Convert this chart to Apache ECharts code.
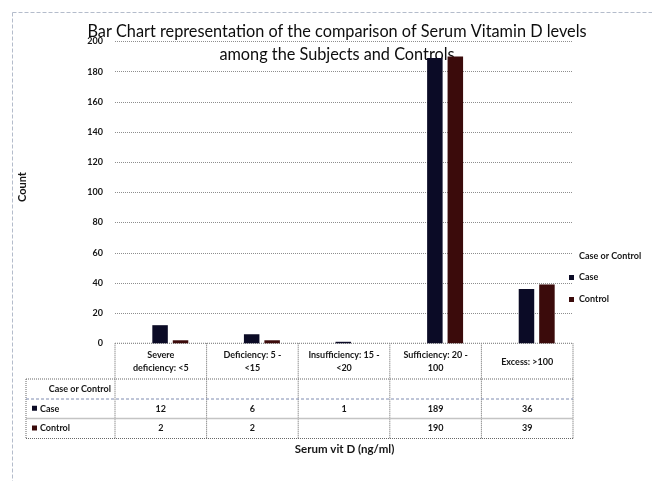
<!DOCTYPE html>
<html>
<head>
<meta charset="utf-8">
<title>Serum Vitamin D levels</title>
<script src="https://cdn.jsdelivr.net/npm/echarts@6/dist/echarts.min.js"></script>
<style>
  html, body { margin: 0; padding: 0; background: #fff; }
  #chart { width: 652px; height: 481px; }
</style>
</head>
<body>
<div id="chart"></div>
<script>
// Vitamin D categories (ng/ml) and counts per group
const categories = [
  'Severe\ndeficiency: <5',
  'Deficiency: 5 -\n<15',
  'Insufficiency: 15 -\n<20',
  'Sufficiency: 20 -\n100',
  'Excess: >100'
];
const caseCounts = [12, 6, 1, 189, 36];
const controlCounts = [2, 2, null, 190, 39];
const seriesNames = ['Case', 'Control'];
const yTicks = { min: 0, max: 200, interval: 20 };

const FONT = 'Lato, "Open Sans", sans-serif';
const colors = ['#0b0b26', '#3b0b0b'];

// plot area
const W = 652, H = 481;
const GL = 115, GR = 573, GT = 41.5, GB = 343.3;
const SHIFT = 9.5;          // bar clusters sit a little right of the band centres
const ROW_LABEL_X = 26;
const rows = [GB, 379, 399, 418.5, 438.5];
const colW = (GR - GL) / categories.length;

const chart = echarts.init(document.getElementById('chart'), null, { renderer: 'canvas' });

const labelStyle = { fontFamily: FONT, fontWeight: 'bold', fontSize: 9, color: '#161616' };
const tableLine = { stroke: '#666', lineWidth: 1, lineDash: [1, 1] };

const graphics = [];
// outer frame (top & left)
graphics.push({ type: 'line', shape: { x1: 12.5, y1: 12.5, x2: W, y2: 12.5 }, style: { stroke: '#b4bccb', lineWidth: 1, lineDash: [4, 2] }, silent: true });
graphics.push({ type: 'line', shape: { x1: 12.5, y1: 12.5, x2: 12.5, y2: H }, style: { stroke: '#b4bccb', lineWidth: 1, lineDash: [4, 2] }, silent: true });

// title
graphics.push({
  type: 'text', x: 337, y: 39.5, silent: true,
  style: { text: 'Bar Chart representation of the comparison of Serum Vitamin D levels', font: '16.3px ' + FONT, fill: '#0d0d0d', textAlign: 'center', textVerticalAlign: 'bottom' }
});
graphics.push({
  type: 'text', x: 337, y: 62.5, silent: true,
  style: { text: 'among the Subjects and Controls', font: '16.3px ' + FONT, fill: '#0d0d0d', textAlign: 'center', textVerticalAlign: 'bottom' }
});

// y axis name
graphics.push({
  type: 'text', x: 22, y: 187, rotation: Math.PI / 2, silent: true,
  style: { text: 'Count', font: 'bold 11px ' + FONT, fill: '#161616', textAlign: 'center', textVerticalAlign: 'middle' }
});

// x axis name
graphics.push({
  type: 'text', x: 344.5, y: 449, silent: true,
  style: { text: 'Serum vit D (ng/ml)', font: 'bold 11.5px ' + FONT, fill: '#161616', textAlign: 'center', textVerticalAlign: 'middle' }
});

// legend heading
graphics.push({
  type: 'text', x: 579, y: 256, silent: true,
  style: { text: 'Case or Control', font: 'bold 9px ' + FONT, fill: '#161616', textAlign: 'left', textVerticalAlign: 'middle' }
});

// data table grid lines
for (let i = 0; i <= categories.length; i++) {
  const x = GL + i * colW;
  graphics.push({ type: 'line', shape: { x1: x, y1: rows[0], x2: x, y2: rows[4] }, style: tableLine, silent: true });
}
graphics.push({ type: 'line', shape: { x1: ROW_LABEL_X, y1: rows[1], x2: ROW_LABEL_X, y2: rows[4] }, style: tableLine, silent: true });
graphics.push({ type: 'line', shape: { x1: GL, y1: rows[0], x2: GR, y2: rows[0] }, style: tableLine, silent: true });
graphics.push({ type: 'line', shape: { x1: ROW_LABEL_X, y1: rows[1], x2: GR, y2: rows[1] }, style: tableLine, silent: true });
graphics.push({ type: 'line', shape: { x1: ROW_LABEL_X, y1: rows[2], x2: GR, y2: rows[2] }, style: { stroke: '#7f8bb0', lineWidth: 1, lineDash: [3, 2] }, silent: true });
graphics.push({ type: 'line', shape: { x1: ROW_LABEL_X, y1: rows[3], x2: GR, y2: rows[3] }, style: { stroke: '#c4c4c4', lineWidth: 1.5 }, silent: true });
graphics.push({ type: 'line', shape: { x1: ROW_LABEL_X, y1: rows[4], x2: GR, y2: rows[4] }, style: tableLine, silent: true });

// row headings
graphics.push({
  type: 'text', x: 111, y: (rows[1] + rows[2]) / 2, silent: true,
  style: { text: 'Case or Control', font: 'bold 9px ' + FONT, fill: '#161616', textAlign: 'right', textVerticalAlign: 'middle' }
});
seriesNames.forEach((name, k) => {
  const cy = (rows[2 + k] + rows[3 + k]) / 2;
  graphics.push({ type: 'rect', shape: { x: 32, y: cy - 3, width: 5, height: 5 }, style: { fill: colors[k] }, silent: true });
  graphics.push({
    type: 'text', x: 40, y: cy, silent: true,
    style: { text: name, font: 'bold 9px ' + FONT, fill: '#161616', textAlign: 'left', textVerticalAlign: 'middle' }
  });
});

// table value rows are drawn as extra category axes so they line up with the bands
const valueRow = (values, yCenter) => ({
  type: 'category', gridIndex: 0, data: categories, position: 'bottom',
  offset: yCenter - GB,
  axisLine: { show: false }, axisTick: { show: false },
  axisLabel: {
    interval: 0, margin: 0, verticalAlign: 'middle', ...labelStyle,
    formatter: (v, i) => (values[i] == null ? '' : String(values[i]))
  }
});

const option = {
  backgroundColor: '#ffffff',
  animation: false,
  textStyle: { fontFamily: FONT },
  grid: [
    { left: GL, right: W - GR, top: GT, bottom: H - GB },
    { left: GL + SHIFT, right: W - GR - SHIFT, top: GT, bottom: H - GB }
  ],
  xAxis: [
    {
      type: 'category', gridIndex: 0, data: categories,
      axisLine: { show: false }, axisTick: { show: false },
      axisLabel: { interval: 0, margin: 18.5, verticalAlign: 'middle', lineHeight: 13, align: 'center', ...labelStyle }
    },
    valueRow(caseCounts, (rows[2] + rows[3]) / 2),
    valueRow(controlCounts, (rows[3] + rows[4]) / 2),
    {
      type: 'category', gridIndex: 1, data: categories,
      axisLine: { show: false }, axisTick: { show: false }, axisLabel: { show: false }
    }
  ],
  yAxis: [
    {
      type: 'value', gridIndex: 0, min: yTicks.min, max: yTicks.max, interval: yTicks.interval,
      axisLine: { show: false }, axisTick: { show: false },
      axisLabel: { margin: 12, ...labelStyle },
      splitLine: { lineStyle: { color: '#8e8e8e', width: 1, type: [1, 1] } }
    },
    {
      type: 'value', gridIndex: 1, min: yTicks.min, max: yTicks.max, interval: yTicks.interval,
      show: false, splitLine: { show: false }
    }
  ],
  legend: {
    orient: 'vertical', left: 569, top: 272, padding: 0,
    itemWidth: 5, itemHeight: 5, itemGap: 11, icon: 'rect',
    textStyle: { ...labelStyle, lineHeight: 11 },
    data: seriesNames
  },
  series: [
    {
      name: seriesNames[0], type: 'bar', xAxisIndex: 3, yAxisIndex: 1,
      data: caseCounts, barWidth: 15.5, barGap: '32%',
      itemStyle: { color: colors[0] }
    },
    {
      name: seriesNames[1], type: 'bar', xAxisIndex: 3, yAxisIndex: 1,
      data: controlCounts, barWidth: 15.5, barGap: '32%',
      itemStyle: { color: colors[1] }
    }
  ],
  graphic: graphics
};

chart.setOption(option);
</script>
</body>
</html>
